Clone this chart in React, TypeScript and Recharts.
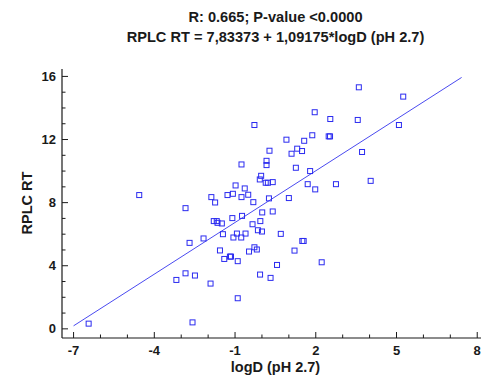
import React from 'react';
import { ScatterChart, Scatter, XAxis, YAxis, ReferenceLine } from 'recharts';

// logD (pH 2.7) vs RPLC retention time
const logD = [
  -0.28, 0.28, 0.17, 0.17, -0.76, -0.03, -0.08, 0.14, 0.22, 0.4,
  -4.56, -1.88, -1.74, -1.28, -1.08, -0.98, -0.64, -0.76, -0.51, -0.32,
  0.26, -2.84, 3.6, 5.25, 1.96, 2.54, 3.56, 5.09, 1.87, 2.48,
  2.53, 0.91, 1.57, 1.31, 1.49, 1.1, 3.72, 1.26, 1.79, 1.7,
  1.98, 2.75, 4.04, 1.0, 0.01, 0.4, 0.7, -0.74, -1.1, -1.79,
  -1.68, -1.65, -1.49, -0.35, -0.06, -0.15, 0.0, -1.45, -0.93, -0.61,
  -1.06, -0.77, -2.69, -2.17, -0.28, -0.19, -0.48, -1.56, -1.4, -1.19,
  -1.15, -0.9, 0.56, -0.07, 0.32, -3.18, -2.84, -2.49, -1.91, -0.9,
  -6.44, -2.58, 1.5, 1.55, 1.21, 2.22,
];
const rplcRT = [
  12.92, 11.29, 10.65, 10.38, 10.42, 9.7, 9.47, 9.26, 9.26, 9.3,
  8.48, 8.35, 8.01, 8.48, 8.56, 9.09, 8.9, 8.35, 8.5, 8.03,
  8.27, 7.65, 15.31, 14.72, 13.73, 13.3, 13.24, 12.92, 12.27, 12.2,
  12.2, 11.99, 11.92, 11.42, 11.27, 11.1, 11.21, 10.21, 10.0, 9.17,
  8.84, 9.17, 9.38, 8.29, 7.38, 7.44, 6.02, 7.16, 7.02, 6.83,
  6.83, 6.72, 6.68, 6.63, 6.83, 6.25, 6.17, 6.0, 6.04, 6.04,
  5.79, 5.79, 5.45, 5.73, 5.17, 5.03, 4.9, 4.97, 4.43, 4.58,
  4.58, 4.29, 4.05, 3.44, 3.23, 3.1, 3.52, 3.38, 2.87, 1.94,
  0.33, 0.41, 5.57, 5.57, 4.96, 4.22,
];

const intercept = 7.83373;
const slope = 1.09175;
const fitRange = [-7, 7.42];

const xMajor = [-7, -4, -1, 2, 5, 8];
const yMajor = [0, 4, 8, 12, 16];
const xTicks = [-7, -6, -5, -4, -3, -2, -1, 0, 1, 2, 3, 4, 5, 6, 7, 8];
const yTicks = [0, 1, 2, 3, 4, 5, 6, 7, 8, 9, 10, 11, 12, 13, 14, 15, 16];

const points = logD.map((x, i) => ({ x, y: rplcRT[i] }));
const fitLine = fitRange.map((x) => ({ x, y: intercept + slope * x }));

const FONT = '"Liberation Sans", Arial, sans-serif';
const INK = '#1a1a1a';
const BLUE = '#2b2bf0';

function makeTick(side: 'bottom' | 'top' | 'left' | 'right', majors: number[]) {
  return (props: any) => {
    const { x, y, payload } = props;
    const major = majors.includes(payload.value);
    const len = major ? 6 : 3.5;
    let line;
    if (side === 'bottom') line = <line x1={x} x2={x} y1={y} y2={y - len} />;
    else if (side === 'top') line = <line x1={x} x2={x} y1={y} y2={y + len} />;
    else if (side === 'left') line = <line x1={x} x2={x + len} y1={y} y2={y} />;
    else line = <line x1={x} x2={x - len} y1={y} y2={y} />;
    return (
      <g stroke={INK} strokeWidth={1}>
        {line}
        {major && side === 'bottom' && (
          <text x={x} y={y + 17} textAnchor="middle" stroke="none" fill={INK} fontSize={13} fontWeight="bold" fontFamily={FONT}>
            {payload.value}
          </text>
        )}
        {major && side === 'left' && (
          <text x={x - 6} y={y + 4.5} textAnchor="end" stroke="none" fill={INK} fontSize={13} fontWeight="bold" fontFamily={FONT}>
            {payload.value}
          </text>
        )}
      </g>
    );
  };
}

const Square = (props: any) => {
  const { cx, cy } = props;
  return <rect x={cx - 2.5} y={cy - 2.5} width={5} height={5} fill="none" stroke={BLUE} strokeWidth={1} />;
};

export default function App() {
  const axisLine = { stroke: INK, strokeWidth: 1.2 };
  return (
    <div style={{ position: 'absolute', left: 0, top: 0, width: 486, height: 380, background: '#fff', fontFamily: FONT }}>
      <div style={{ position: 'absolute', top: 7, left: 0, width: 551, textAlign: 'center', fontSize: 14.6, fontWeight: 'bold', color: INK, lineHeight: '20px' }}>
        R: 0.665; P-value &lt;0.0000
        <br />
        RPLC RT = 7,83373 + 1,09175*logD (pH 2.7)
      </div>
      <div style={{ position: 'absolute', top: 359, left: 0, width: 551, textAlign: 'center', fontSize: 14.5, fontWeight: 'bold', color: INK }}>
        logD (pH 2.7)
      </div>
      <div style={{ position: 'absolute', left: 27, top: 203, transform: 'translate(-50%, -50%) rotate(-90deg)', fontSize: 14.5, fontWeight: 'bold', color: INK, whiteSpace: 'nowrap' }}>
        RPLC RT
      </div>
      <ScatterChart width={486} height={380} margin={{ top: 69, right: 5, bottom: 0, left: 0 }}>
        <XAxis
          xAxisId="b"
          type="number"
          dataKey="x"
          domain={[-7.43, 8.14]}
          ticks={xTicks}
          interval={0}
          height={42}
          tickSize={0}
          tickMargin={0}
          tickLine={false}
          axisLine={axisLine}
          tick={makeTick('bottom', xMajor)}
          allowDataOverflow
        />
        <XAxis
          xAxisId="t"
          orientation="top"
          type="number"
          dataKey="x"
          domain={[-7.43, 8.14]}
          ticks={xTicks}
          interval={0}
          height={0}
          tickSize={0}
          tickMargin={0}
          tickLine={false}
          axisLine={axisLine}
          tick={makeTick('top', xMajor)}
          allowDataOverflow
        />
        <YAxis
          yAxisId="l"
          type="number"
          dataKey="y"
          domain={[-0.58, 16.47]}
          ticks={yTicks}
          interval={0}
          width={62}
          tickSize={0}
          tickMargin={0}
          tickLine={false}
          axisLine={axisLine}
          tick={makeTick('left', yMajor)}
          allowDataOverflow
        />
        <YAxis
          yAxisId="r"
          orientation="right"
          type="number"
          dataKey="y"
          domain={[-0.58, 16.47]}
          ticks={yTicks}
          interval={0}
          width={0}
          tickSize={0}
          tickMargin={0}
          tickLine={false}
          axisLine={axisLine}
          tick={makeTick('right', yMajor)}
          allowDataOverflow
        />
        <ReferenceLine
          xAxisId="b"
          yAxisId="l"
          segment={fitLine}
          stroke="#4a4af0"
          strokeWidth={1}
          ifOverflow="visible"
        />
        <Scatter xAxisId="b" yAxisId="l" data={points} shape={Square} isAnimationActive={false} />
      </ScatterChart>
    </div>
  );
}
